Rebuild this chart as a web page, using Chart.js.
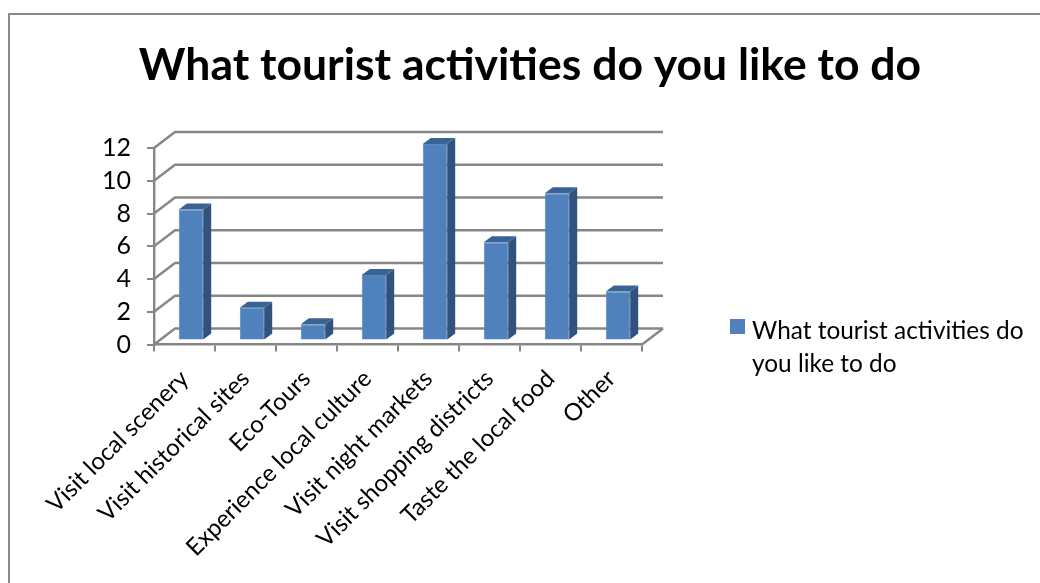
<!DOCTYPE html>
<html>
<head>
<meta charset="utf-8">
<title>What tourist activities do you like to do</title>
<script src="https://cdn.jsdelivr.net/npm/chart.js@4/dist/chart.umd.min.js"></script>
<style>
  html, body { margin: 0; padding: 0; background: #fff; overflow: hidden; }
  #page { position: relative; width: 1040px; height: 583px; overflow: hidden; }
  #frame { position: absolute; left: 8px; top: 13px; width: 1040px; height: 600px; border: 2px solid #8c8c8c; box-sizing: border-box; }
  #chart { position: absolute; left: 10px; top: 0; }
  #legend { position: absolute; left: 730px; top: 313px; width: 300px; font: 24.4px/33px Lato, sans-serif; color: #000; }
  #legend i { position: absolute; left: 0; top: 6px; width: 15px; height: 15px; background: #4f81bd; }
  #legend span { display: block; margin-left: 22px; }
</style>
</head>
<body>
<div id="page">
  <div id="frame"></div>
  <canvas id="chart" width="1040" height="583"></canvas>
  <div id="legend"><i></i><span id="legendText"></span></div>
</div>
<script>
// Chart data
const chartTitle = 'What tourist activities do you like to do';
const categories = ['Visit local scenery', 'Visit historical sites', 'Eco-Tours', 'Experience local culture',
  'Visit night markets', 'Visit shopping districts', 'Taste the local food', 'Other'];
const seriesValues = [8, 2, 1, 4, 12, 6, 9, 3];

const axisColor = '#868686';
const depthX = 21, depthY = 16;      // back wall offset
const barShiftX = 6.5, barShiftY = -4;
const barDepthX = 8, barDepthY = 6;

document.getElementById('legendText').textContent = chartTitle;

// Fake 3D: back wall, left wall and floor behind the bars, bar sides on top
const depthPlugin = {
  id: 'depth',
  beforeDatasetsDraw(chart) {
    const { ctx, chartArea: area, scales: { y } } = chart;
    ctx.save();
    ctx.strokeStyle = axisColor;
    ctx.lineWidth = 2.4;
    y.ticks.forEach(t => {
      const py = y.getPixelForValue(t.value);
      ctx.beginPath();
      ctx.moveTo(area.left, py);
      ctx.lineTo(area.left + depthX, py - depthY);
      ctx.lineTo(area.right + depthX, py - depthY);
      ctx.stroke();
    });
    ctx.beginPath();
    ctx.moveTo(area.right, area.bottom);
    ctx.lineTo(area.right + depthX, area.bottom - depthY);
    ctx.stroke();
    ctx.restore();
  },
  beforeDatasetDraw(chart) {
    chart.ctx.save();
    chart.ctx.translate(barShiftX, barShiftY);
  },
  afterDatasetDraw(chart, args) {
    const ctx = chart.ctx;
    args.meta.data.forEach(bar => {
      const x1 = bar.x + bar.width / 2;
      const x0 = bar.x - bar.width / 2;
      ctx.fillStyle = '#31527c';
      ctx.beginPath();
      ctx.moveTo(x1, bar.y);
      ctx.lineTo(x1 + barDepthX, bar.y - barDepthY);
      ctx.lineTo(x1 + barDepthX, bar.base - barDepthY);
      ctx.lineTo(x1, bar.base);
      ctx.closePath();
      ctx.fill();
      ctx.fillStyle = '#3a6395';
      ctx.beginPath();
      ctx.moveTo(x0, bar.y);
      ctx.lineTo(x0 + barDepthX, bar.y - barDepthY);
      ctx.lineTo(x1 + barDepthX, bar.y - barDepthY);
      ctx.lineTo(x1, bar.y);
      ctx.closePath();
      ctx.fill();
    });
    ctx.restore();
  }
};

new Chart(document.getElementById('chart'), {
  type: 'bar',
  data: {
    labels: categories,
    datasets: [{
      label: chartTitle,
      data: seriesValues,
      backgroundColor: '#4f81bd',
      borderColor: '#5689c4',
      borderWidth: 1,
      barPercentage: 0.4,
      categoryPercentage: 1,
      clip: false
    }]
  },
  options: {
    responsive: false,
    animation: false,
    plugins: {
      legend: { display: false },
      tooltip: { enabled: false },
      title: {
        display: true,
        text: chartTitle,
        color: '#000',
        font: { family: 'Lato', size: 44.5, weight: 'bold', lineHeight: 1.2 },
        padding: { top: 39, bottom: 55.6 }
      }
    },
    scales: {
      x: {
        afterFit(scale) { scale.height = 238.5; },
        border: { display: true, color: axisColor, width: 2.4 },
        grid: { drawOnChartArea: false, drawTicks: true, tickLength: 7, color: axisColor, lineWidth: 2 },
        ticks: { autoSkip: false, minRotation: 45, maxRotation: 45, color: '#000', padding: 13,
          font: { family: 'Lato', size: 24 } }
      },
      y: {
        min: 0,
        max: 12,
        afterFit(scale) { scale.width = 144; },
        border: { display: true, color: axisColor, width: 2.4 },
        grid: { drawOnChartArea: false, drawTicks: true, tickLength: 7, color: axisColor, lineWidth: 2 },
        ticks: { autoSkip: false, stepSize: 2, color: '#000', padding: 16, font: { family: 'Lato', size: 25 } }
      },
      // empty axis that keeps the legend side free, the title stays centred on the whole canvas
      side: {
        position: 'right',
        afterFit(scale) { scale.width = 408; },
        border: { display: false },
        grid: { display: false },
        ticks: { display: false }
      }
    }
  },
  plugins: [depthPlugin]
});
</script>
</body>
</html>
